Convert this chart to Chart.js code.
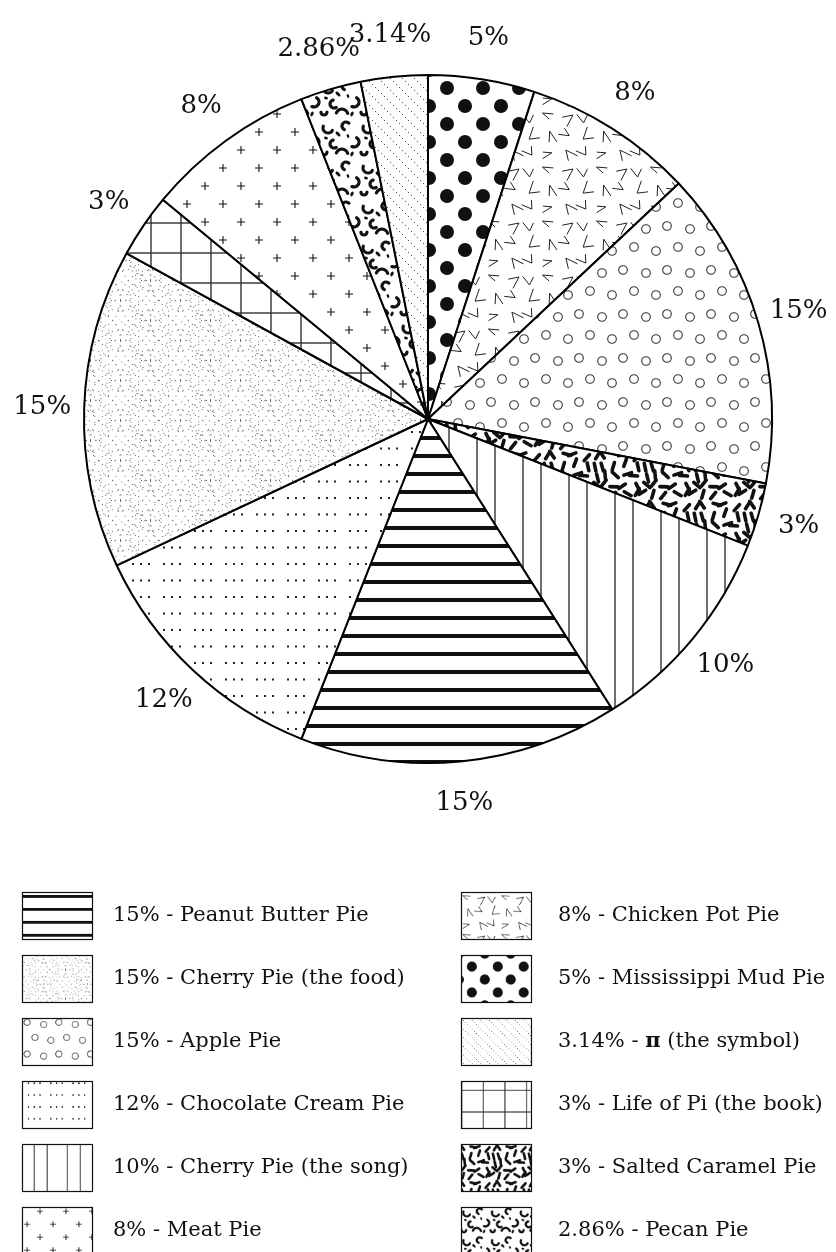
<!DOCTYPE html>
<html>
<head>
<meta charset="utf-8">
<script src="https://cdn.jsdelivr.net/npm/chart.js@4"></script>
<style>
  html, body { margin: 0; padding: 0; background: #fff; }
</style>
</head>
<body>
<canvas id="pieChart" width="836" height="1252"></canvas>
<script>
// Pie slices, clockwise from 12 o'clock
const pieNames = ['Mississippi Mud Pie', 'Chicken Pot Pie', 'Apple Pie', 'Salted Caramel Pie',
  'Cherry Pie (the song)', 'Peanut Butter Pie', 'Chocolate Cream Pie', 'Cherry Pie (the food)',
  'Life of Pi (the book)', 'Meat Pie', 'Pecan Pie', 'π (the symbol)'];
const pieValues = [5, 8, 15, 3, 10, 15, 12, 15, 3, 8, 2.86, 3.14];
// legend runs down the left column, then the right one
const legendOrder = [5, 7, 2, 6, 4, 9, 1, 0, 11, 8, 3, 10];

const pieCtx = document.getElementById('pieChart');
const mainCtx = pieCtx.getContext('2d');

// small seeded generator, only used to scatter texture specks
let seed = 11;
function rnd() { seed = (seed * 16807) % 2147483647; return (seed - 1) / 2147483646; }

function tile(w, h, draw) {
    const c = document.createElement('canvas');
    c.width = w; c.height = h;
    const g = c.getContext('2d');
    g.fillStyle = '#fff';
    g.fillRect(0, 0, w, h);
    draw(g, w, h);
    return mainCtx.createPattern(c, 'repeat');
}
// repeat a shape on the neighbouring copies so the tile joins up
function wrapped(w, h, x, y, fn) {
    for (const ox of [-w, 0, w]) for (const oy of [-h, 0, h]) fn(x + ox, y + oy);
}

const mud = tile(36, 36, (g, w, h) => {
    g.fillStyle = '#111';
    [[15, 16], [33, 34]].forEach(([x, y]) => wrapped(w, h, x, y, (px, py) => {
        g.beginPath(); g.arc(px, py, 7, 0, Math.PI * 2); g.fill();
    }));
});

// open "V" ticks, one per cell, turned every which way
const chicken = tile(54, 54, (g, w, h) => {
    const turns = [0.4, 2.5, 4.6, 1.3, 3.7, 5.6, 2.9, 0.9, 4.1];
    g.strokeStyle = '#222'; g.lineWidth = 1;
    turns.forEach((t, n) => {
        const cx = (n % 3) * 18 + 9 + (n % 2 ? 2 : -2), cy = Math.floor(n / 3) * 18 + 9 + (n % 4 ? 1 : -2);
        const half = 0.32 + (n % 3) * 0.12, len = 11 + (n % 2) * 2;
        const vx = cx - Math.cos(t) * 5, vy = cy - Math.sin(t) * 5;
        wrapped(w, h, vx, vy, (px, py) => {
            g.beginPath();
            g.moveTo(px + Math.cos(t - half) * len, py + Math.sin(t - half) * len);
            g.lineTo(px, py);
            g.lineTo(px + Math.cos(t + half) * (len - 2), py + Math.sin(t + half) * (len - 2));
            g.stroke();
        });
    });
});

const apple = tile(44, 44, (g, w, h) => {
    const rings = [[7, 6], [30, 9], [18, 27], [40, 31]];
    g.strokeStyle = '#333'; g.lineWidth = 1.1;
    rings.forEach(([x, y]) => wrapped(w, h, x, y, (px, py) => {
        g.beginPath(); g.arc(px, py, 4.3, 0, Math.PI * 2); g.stroke();
    }));
});

// sprinkles
const salted = tile(50, 50, (g, w, h) => {
    g.strokeStyle = '#111'; g.lineWidth = 3.6; g.lineCap = 'round';
    for (let i = 0; i < 5; i++) for (let j = 0; j < 5; j++) {
        const x = i * 10 + 2 + rnd() * 6, y = j * 10 + 2 + rnd() * 6, a = rnd() * Math.PI;
        wrapped(w, h, x, y, (px, py) => {
            g.beginPath();
            g.moveTo(px - Math.cos(a) * 4, py - Math.sin(a) * 4);
            g.lineTo(px + Math.cos(a) * 4, py + Math.sin(a) * 4);
            g.stroke();
        });
    }
});

const song = tile(46, 4, (g) => {
    g.fillStyle = '#333';
    g.fillRect(16.3, 0, 1.4, 4);
    g.fillRect(34.3, 0, 1.4, 4);
});

const peanut = tile(4, 18, (g) => {
    g.fillStyle = '#111';
    g.fillRect(0, 4, 4, 4);
});

const choc = tile(31, 33, (g) => {
    g.fillStyle = '#222';
    [3, 19.5].forEach(y => [9, 17, 25].forEach(x => g.fillRect(x - 1, y - 1, 2, 2)));
});

// fine stipple laid out in overlapping scallops
const cherry = tile(60, 40, (g, w, h) => {
    g.fillStyle = '#666';
    [[0, 0], [30, 20]].forEach(([cx, cy]) => wrapped(w, h, cx, cy, (px, py) => {
        [30, 21].forEach(r => {
            const n = Math.round(Math.PI * 2 * r / 5.5);
            for (let k = 0; k < n; k++) {
                const a = k / n * Math.PI * 2;
                g.fillRect(px + Math.cos(a) * r, py + Math.sin(a) * r, 1, 1);
            }
        });
    }));
    for (let k = 0; k < 30; k++) g.fillRect(rnd() * w, rnd() * h, 1, 1);
});

const grid = tile(30, 30, (g) => {
    g.fillStyle = '#333';
    g.fillRect(0.3, 0, 1.4, 30);
    g.fillRect(0, 12.3, 30, 1.4);
});

const meat = tile(36, 36, (g, w, h) => {
    g.strokeStyle = '#111'; g.lineWidth = 1.1;
    [[7, 24], [25, 6]].forEach(([x, y]) => wrapped(w, h, x, y, (px, py) => {
        g.beginPath();
        g.moveTo(px - 4, py); g.lineTo(px + 4, py);
        g.moveTo(px, py - 4); g.lineTo(px, py + 4);
        g.stroke();
    }));
});

const pecan = tile(40, 40, (g, w, h) => {
    g.strokeStyle = '#111'; g.fillStyle = '#111'; g.lineWidth = 3.2; g.lineCap = 'round';
    const arcs = [[8, 8, 5, 0.5, 3.5], [26, 6, 4, 2, 5.5], [34, 22, 5, -1, 2], [14, 24, 4, 1, 4.5],
        [22, 35, 6, 3.5, 6], [4, 32, 3, 0, 3]];
    arcs.forEach(([x, y, r, a0, a1]) => wrapped(w, h, x, y, (px, py) => {
        g.beginPath(); g.arc(px, py, r, a0, a1); g.stroke();
    }));
    const blobs = [[18, 14, 3, 1.6, 0.8], [32, 34, 2.5, 1.5, 2], [6, 18, 2, 1.4, 0.3], [28, 16, 2, 1.2, 1.2]];
    blobs.forEach(([x, y, rx, ry, rot]) => wrapped(w, h, x, y, (px, py) => {
        g.beginPath(); g.ellipse(px, py, rx, ry, rot, 0, Math.PI * 2); g.fill();
    }));
});

const piLines = tile(12, 12, (g) => {
    g.fillStyle = '#555';
    for (let i = 0; i < 4; i++) g.fillRect(i * 3, i * 3, 1, 1);
});

const fills = [mud, chicken, apple, salted, song, peanut, choc, cherry, grid, meat, pecan, piLines];

// percentage text just outside each slice
const sliceLabels = {
    id: 'sliceLabels',
    afterDatasetsDraw(chart) {
        const g = chart.ctx;
        g.save();
        g.font = '26px "DejaVu Serif"';
        g.fillStyle = '#111';
        g.textAlign = 'center';
        g.textBaseline = 'middle';
        chart.getDatasetMeta(0).data.forEach((arc, i) => {
            const p = arc.getProps(['x', 'y', 'startAngle', 'endAngle', 'outerRadius'], true);
            const mid = (p.startAngle + p.endAngle) / 2;
            const d = p.outerRadius + 42;
            g.fillText(pieValues[i] + '%', p.x + Math.cos(mid) * d, p.y + Math.sin(mid) * d);
        });
        g.restore();
    }
};

// two-column legend with pattern swatches (patterns drawn a bit smaller)
const patternLegend = {
    id: 'patternLegend',
    afterDraw(chart) {
        const g = chart.ctx;
        const bg = chart.data.datasets[0].backgroundColor;
        const boxX = [22, 461], textX = [113, 558];
        const boxW = 70, boxH = 47, k = 0.72;
        const top0 = chart.chartArea.bottom + 128;
        g.save();
        g.textBaseline = 'middle';
        legendOrder.forEach((idx, n) => {
            const col = Math.floor(n / 6), row = n % 6;
            const by = top0 + row * 63;
            g.save();
            g.translate(boxX[col], by);
            g.scale(k, k);
            g.fillStyle = bg[idx];
            g.fillRect(0, 0, boxW / k, boxH / k);
            g.restore();
            g.strokeStyle = '#111'; g.lineWidth = 1.2;
            g.strokeRect(boxX[col] + 0.5, by + 0.5, boxW, boxH);

            g.fillStyle = '#111';
            g.font = '21px "DejaVu Serif"';
            const name = pieNames[idx];
            const head = pieValues[idx] + '% - ';
            let x = textX[col];
            g.fillText(head, x, by + 24);
            x += g.measureText(head).width;
            if (name.startsWith('π')) {
                g.font = 'bold 21px "DejaVu Serif"';
                g.fillText('π', x, by + 24);
                x += g.measureText('π').width;
                g.font = '21px "DejaVu Serif"';
                g.fillText(name.slice(1), x, by + 24);
            } else {
                g.fillText(name, x, by + 24);
            }
        });
        g.restore();
    }
};

new Chart(pieCtx, {
    type: 'pie',
    data: {
        labels: pieNames,
        datasets: [{
            data: pieValues,
            backgroundColor: fills,
            borderColor: '#000',
            borderWidth: 2
        }]
    },
    options: {
        responsive: false,
        animation: false,
        events: [],
        layout: { padding: { left: 83, right: 63, top: 74, bottom: 488 } },
        plugins: { legend: { display: false }, tooltip: { enabled: false } }
    },
    plugins: [sliceLabels, patternLegend]
});
</script>
</body>
</html>
